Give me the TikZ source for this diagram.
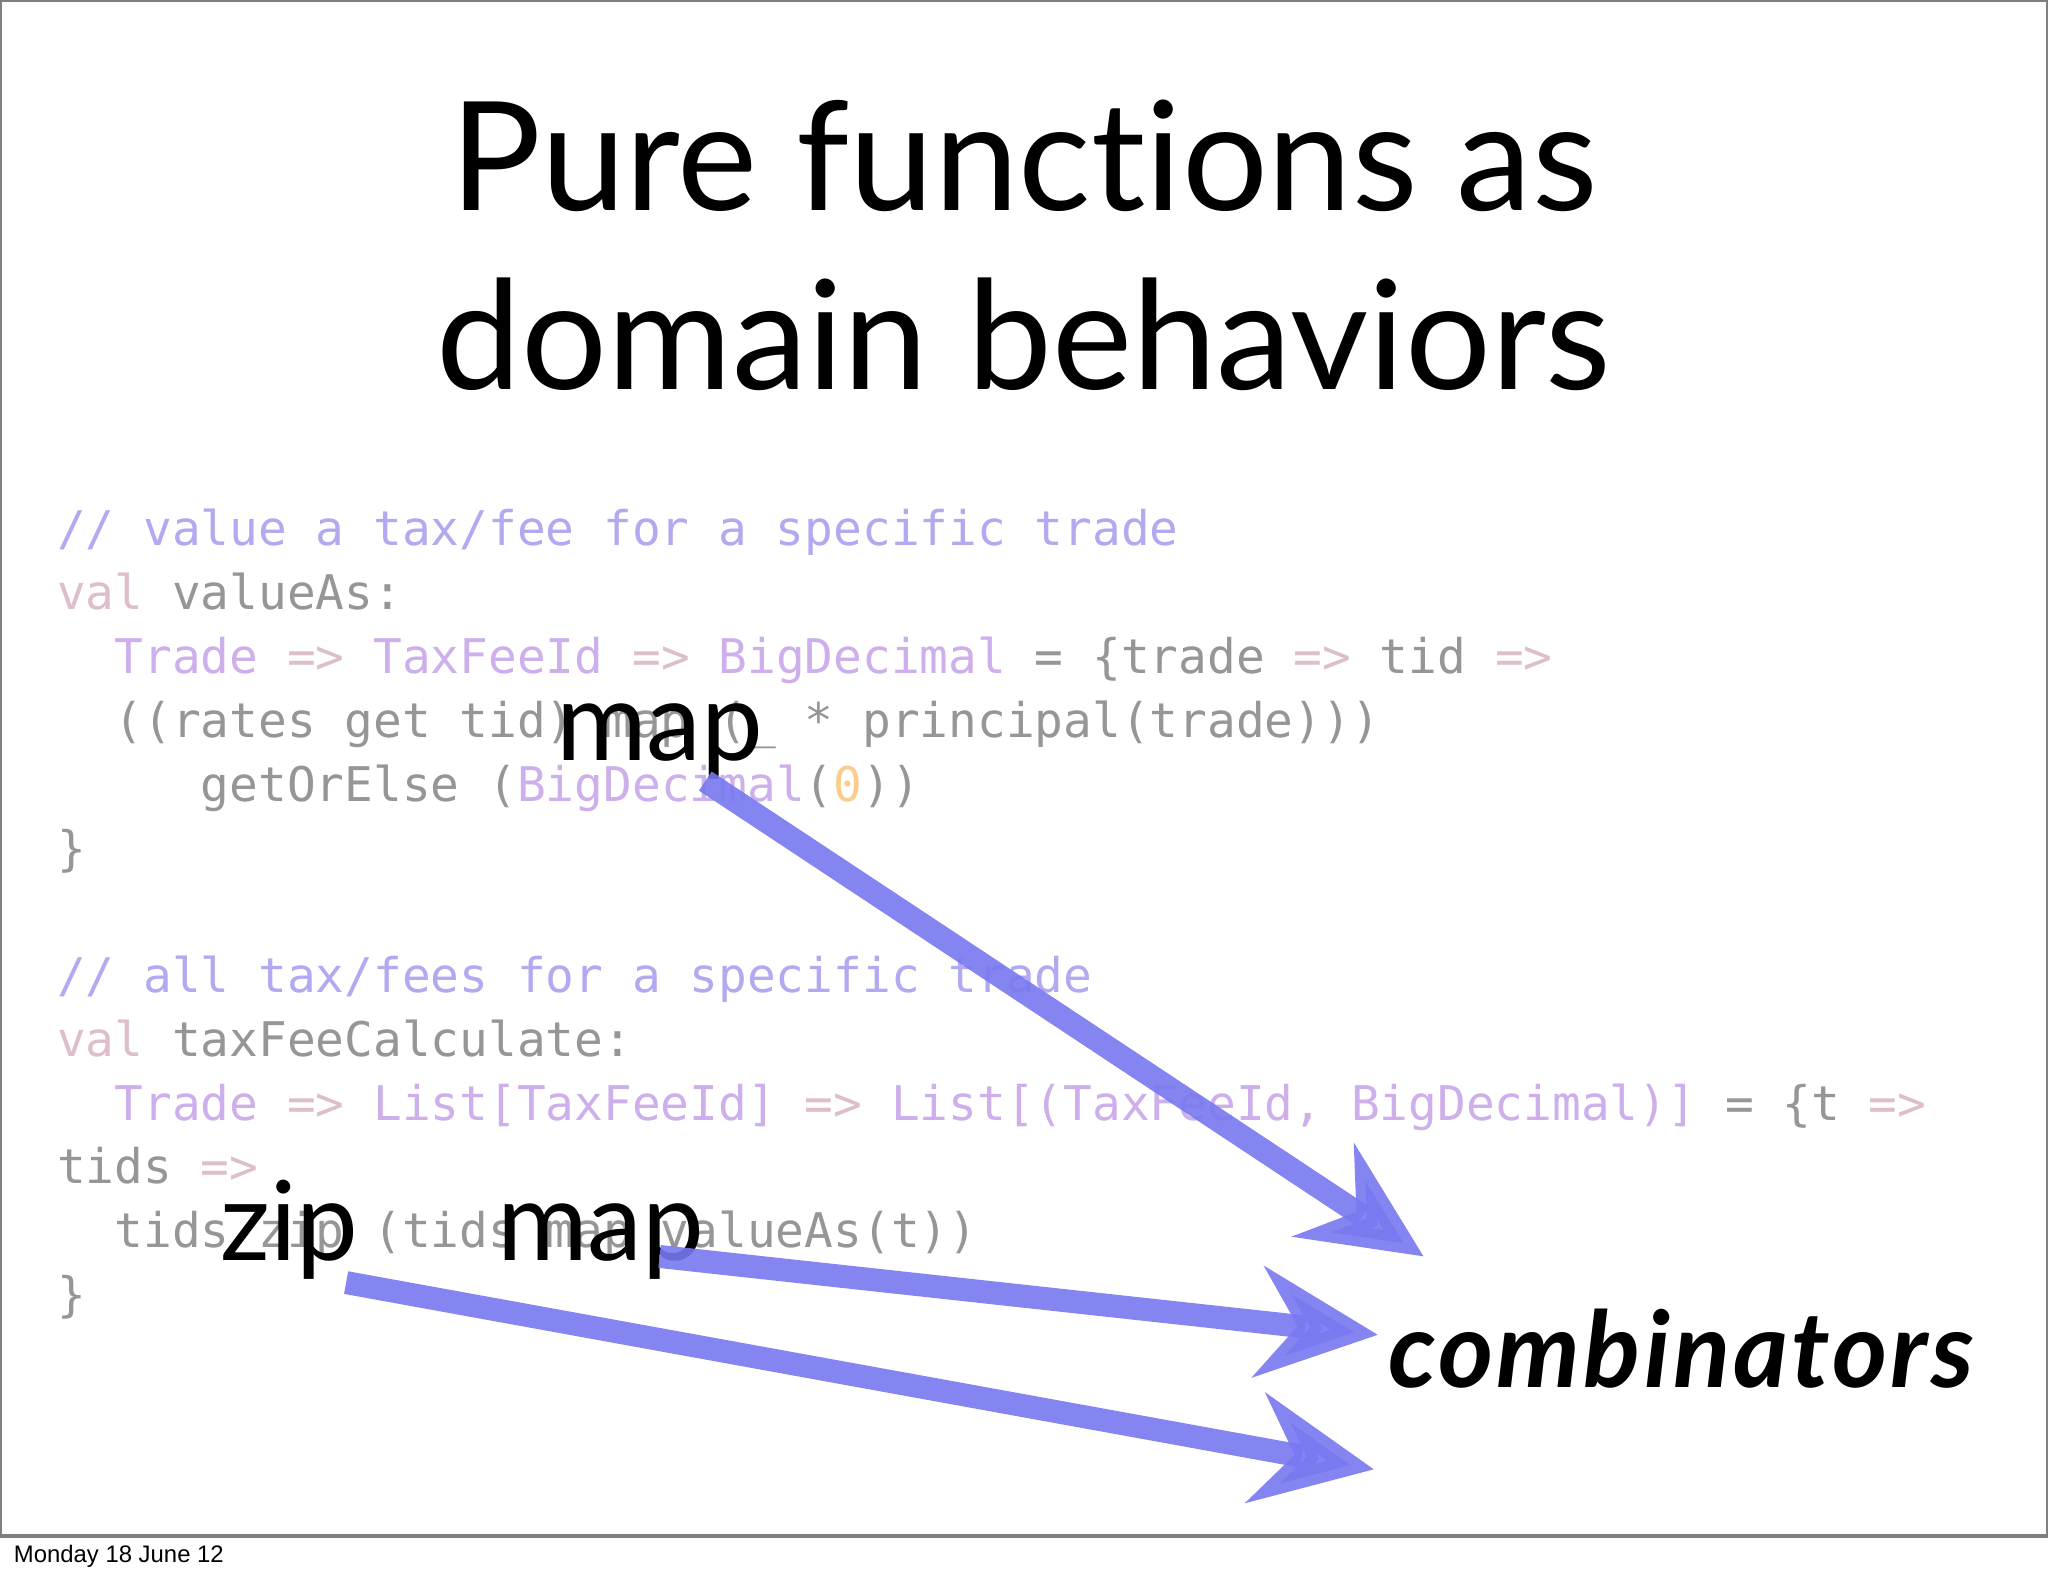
\documentclass[tikz,border=0pt]{standalone}
\usepackage{fontspec}
\setmainfont{Lato}
\newfontfamily\codef{DejaVu Sans Mono}
\newfontfamily\footf{Liberation Sans}
\usetikzlibrary{arrows.meta}
\definecolor{cm}{RGB}{178,170,240}
\definecolor{kw}{RGB}{222,190,205}
\definecolor{ty}{RGB}{205,175,235}
\definecolor{pl}{RGB}{150,150,150}
\definecolor{nu}{RGB}{250,205,140}
\definecolor{arr}{RGB}{120,120,240}
\newcommand{\C}[1]{\textcolor{cm}{#1}}
\newcommand{\K}[1]{\textcolor{kw}{#1}}
\newcommand{\T}[1]{\textcolor{ty}{#1}}
\newcommand{\N}[1]{\textcolor{nu}{#1}}
\begin{document}
\begin{tikzpicture}[x=0.01cm,y=-0.01cm,
  code/.style={anchor=base west,inner sep=0,font=\codef\fontsize{10.4pt}{12pt}\selectfont,text=pl},
  big/.style={anchor=base west,inner sep=0,font=\fontsize{24pt}{28pt}\selectfont},
  arrline/.style={draw=arr,line width=5pt,opacity=0.9,-{Stealth[length=26pt,width=24pt]}}]
\useasboundingbox (0,0) rectangle (1568,1207);
\draw[line width=0.8pt,gray] (0,0) rectangle (1568,1176);
\node[font=\footf\fontsize{5.2pt}{6pt}\selectfont,anchor=base west,inner sep=0] (foot) at (10,1196) {Monday 18 June 12};
\node[font=\fontsize{33pt}{41pt}\selectfont,align=center,inner sep=0] (title) at (784,188) {Pure func\kern0pt t\kern0pt ions as\\[-2pt]domain behaviors};
\node[code] (l1) at (43,418) {\C{// value a tax/fee for a specific trade}};
\node[code] (l2) at (43,467) {\K{val} valueAs:};
\node[code] (l3) at (43,516) {\ \ \T{Trade} \K{=>} \T{TaxFeeId} \K{=>} \T{BigDecimal} = \{trade \K{=>} tid \K{=>}};
\node[code] (l4) at (43,565) {\ \ ((rates get tid) map (\_ * principal(trade)))};
\node[code] (l5) at (43,614) {\ \ \ \ \ getOrElse (\T{BigDecimal}(\N{0}))};
\node[code] (l6) at (43,663) {\}};
\node[code] (l7) at (43,760) {\C{// all tax/fees for a specific trade}};
\node[code] (l8) at (43,809) {\K{val} taxFeeCalculate:};
\node[code] (l9) at (43,858) {\ \ \T{Trade} \K{=>} \T{List[TaxFeeId]} \K{=>} \T{List[(TaxFeeId, BigDecimal)]} = \{t \K{=>}};
\node[code] (l10) at (43,906) {tids \K{=>}};
\node[code] (l11) at (43,955) {\ \ tids zip (tids map valueAs(t))};
\node[code] (l12) at (43,1004) {\}};
\node[big] (m1) at (425,582) {map};
\node[big] (z) at (168,965) {zip};
\node[big] (m2) at (380,965) {map};
\node[anchor=base east,inner sep=0,font=\fontsize{23pt}{27pt}\selectfont\bfseries\itshape] (comb) at (1512,1062) {\addfontfeatures{LetterSpace=3}combinators};
\coordinate (a1s) at (540,598);
\coordinate (a1e) at (1090,962);
\coordinate (a2s) at (505,962);
\coordinate (a2e) at (1055,1022);
\coordinate (a3s) at (265,982);
\coordinate (a3e) at (1052,1125);
\draw[arrline] (a1s) -- (a1e);
\draw[arrline] (a2s) -- (a2e);
\draw[arrline] (a3s) -- (a3e);
\end{tikzpicture}
\end{document}
